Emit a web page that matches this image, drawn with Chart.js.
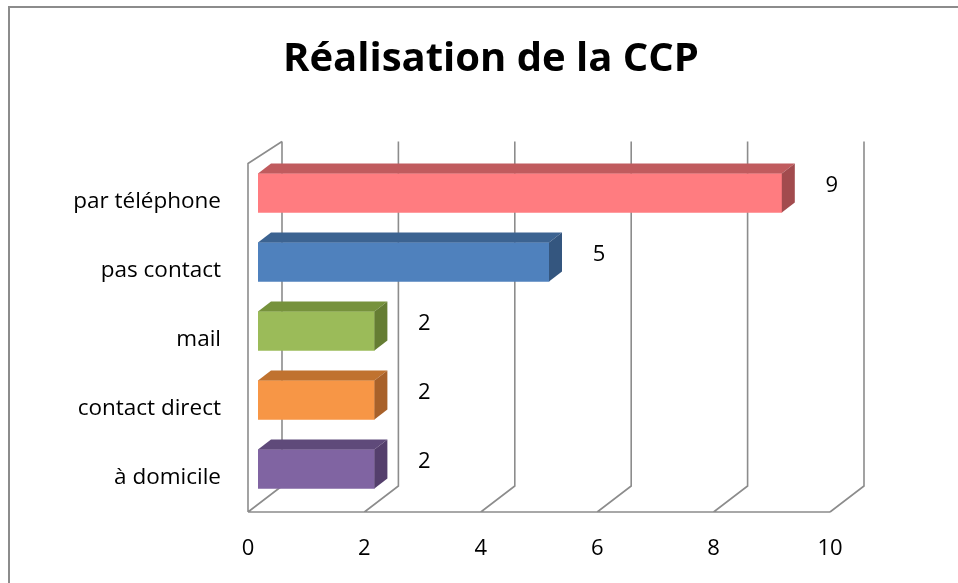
<!DOCTYPE html>
<html>
<head>
<meta charset="utf-8">
<script src="https://cdn.jsdelivr.net/npm/chart.js@4"></script>
<style>
  html, body { margin: 0; padding: 0; background: #fff; }
  #wrap { width: 958px; height: 583px; }
</style>
</head>
<body>
<div id="wrap"><canvas id="ccpChart" width="958" height="583"></canvas></div>
<script>
// data
const categories = ['par téléphone', 'pas contact', 'mail', 'contact direct', 'à domicile'];
const counts = [9, 5, 2, 2, 2];
const xTicks = [0, 2, 4, 6, 8, 10];

// colours per bar: front, top, side
const frontColors = ['#FF7C80', '#4F81BD', '#9BBB59', '#F79646', '#8064A2'];
const topColors = ['#C05B5E', '#3C6391', '#76923C', '#C0722F', '#5F4A7A'];
const sideColors = ['#A24B4E', '#34567F', '#657D33', '#A8612A', '#543F6C'];

const FONT = '"Open Sans"';

// draws the box walls, floor, bar tops/sides and value labels
const box3d = {
    id: 'box3d',
    beforeDraw(chart) {
        const ctx = chart.ctx;
        ctx.save();
        ctx.strokeStyle = '#8c8c8c';
        ctx.lineWidth = 2;
        ctx.beginPath();
        ctx.moveTo(9, chart.height + 5);
        ctx.lineTo(9, 7);
        ctx.lineTo(chart.width + 5, 7);
        ctx.stroke();
        ctx.restore();
    },
    beforeDatasetsDraw(chart) {
        const ctx = chart.ctx;
        const xs = chart.scales.x;
        const area = chart.chartArea;
        const back = { dx: 24, top: -17, bottom: -17.5 };
        const front = { dx: -10, top: 5, bottom: 8.5 };
        ctx.save();
        ctx.strokeStyle = '#8c8c8c';
        ctx.lineWidth = 1.6;
        ctx.beginPath();
        xTicks.forEach(v => {
            const px = xs.getPixelForValue(v);
            // back wall grid line
            ctx.moveTo(px + back.dx, area.top + back.top);
            ctx.lineTo(px + back.dx, area.bottom + back.bottom);
            // floor diagonal
            ctx.lineTo(px + front.dx, area.bottom + front.bottom);
        });
        const x0 = xs.getPixelForValue(0);
        const x1 = xs.getPixelForValue(xTicks[xTicks.length - 1]);
        // floor front edge
        ctx.moveTo(x0 + front.dx, area.bottom + front.bottom);
        ctx.lineTo(x1 + front.dx, area.bottom + front.bottom);
        // left wall
        ctx.moveTo(x0 + front.dx, area.bottom + front.bottom);
        ctx.lineTo(x0 + front.dx, area.top + front.top);
        ctx.lineTo(x0 + back.dx, area.top + back.top);
        ctx.stroke();
        ctx.restore();
    },
    afterDatasetsDraw(chart) {
        const ctx = chart.ctx;
        const meta = chart.getDatasetMeta(0);
        const dx = 13, dy = -10;
        ctx.save();
        meta.data.forEach((bar, i) => {
            const left = bar.base;
            const right = bar.x;
            const top = bar.y - bar.height / 2;
            const bottom = bar.y + bar.height / 2;
            // top face
            ctx.fillStyle = topColors[i];
            ctx.beginPath();
            ctx.moveTo(left, top);
            ctx.lineTo(left + dx, top + dy);
            ctx.lineTo(right + dx, top + dy);
            ctx.lineTo(right, top);
            ctx.closePath();
            ctx.fill();
            // side face
            ctx.fillStyle = sideColors[i];
            ctx.beginPath();
            ctx.moveTo(right, top);
            ctx.lineTo(right + dx, top + dy);
            ctx.lineTo(right + dx, bottom + dy);
            ctx.lineTo(right, bottom);
            ctx.closePath();
            ctx.fill();
            // value label
            ctx.fillStyle = '#000';
            ctx.font = '22px ' + FONT;
            ctx.textAlign = 'center';
            ctx.textBaseline = 'middle';
            ctx.fillText(String(counts[i]), right + 50, bar.y - 7);
        });
        ctx.restore();
    }
};

new Chart(document.getElementById('ccpChart'), {
    type: 'bar',
    data: {
        labels: categories,
        datasets: [{
            data: counts,
            backgroundColor: frontColors,
            borderWidth: 0,
            barThickness: 39
        }]
    },
    options: {
        indexAxis: 'y',
        responsive: false,
        animation: false,
        layout: { padding: { left: 24, top: 0, right: 0, bottom: 0 } },
        scales: {
            x: {
                min: 0,
                max: 10,
                afterBuildTicks: s => { s.ticks = xTicks.map(v => ({ value: v })); },
                grid: { display: false, drawTicks: false },
                border: { display: false },
                ticks: {
                    color: '#000',
                    font: { family: FONT, size: 22 },
                    padding: 32,
                    labelOffset: -10
                },
                afterFit: s => { s.height = 79.5; }
            },
            y: {
                grid: { display: false, drawTicks: false },
                border: { display: false },
                ticks: {
                    color: '#000',
                    font: { family: FONT, size: 22.5 },
                    padding: 37,
                    labelOffset: 9
                },
                afterFit: s => { s.width = 234; }
            },
            yRight: {
                type: 'linear',
                position: 'right',
                grid: { display: false, drawTicks: false },
                border: { display: false },
                ticks: { display: false },
                afterFit: s => { s.width = 118; }
            }
        },
        plugins: {
            legend: { display: false },
            tooltip: { enabled: false },
            title: {
                display: true,
                text: 'Réalisation de la CCP',
                color: '#000',
                font: { family: FONT, size: 40, weight: 'bold', lineHeight: 1.2 },
                padding: { top: 36, bottom: 74.5 }
            }
        }
    },
    plugins: [box3d]
});
</script>
</body>
</html>
